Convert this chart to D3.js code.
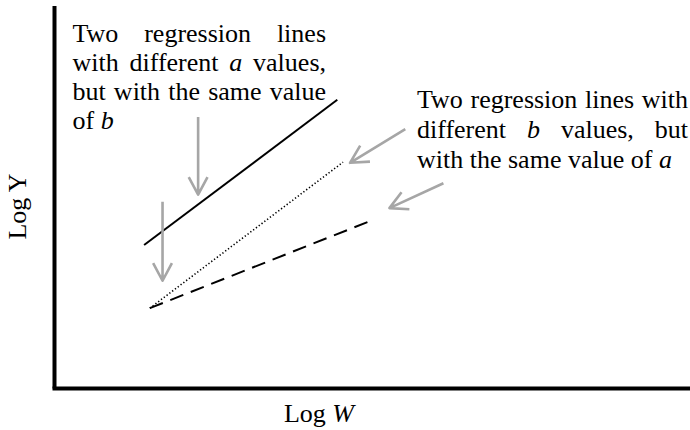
<!DOCTYPE html>
<html>
<head>
<meta charset="utf-8">
<script src="https://cdn.jsdelivr.net/npm/d3@7"></script>
</head>
<body style="margin:0;background:#fff">
<svg id="chart" width="690" height="430" style="display:block"></svg>
<script>
// Regression lines on log-log axes: [logW, logY] at each end
const lineNames   = ["solid", "dotted", "dashed"];
const lineStartW  = [1.41, 1.50, 1.50];
const lineStartY  = [2.25, 1.26, 1.26];
const lineEndW    = [4.45, 4.54, 5.00];
const lineEndY    = [4.53, 3.55, 2.64];

// Annotation arrows: tail -> tip, in the same axis units
const arrowTailW = [2.26, 1.70, 5.52, 6.12];
const arrowTailY = [4.26, 2.93, 4.07, 3.22];
const arrowTipW  = [2.26, 1.70, 4.65, 5.27];
const arrowTipY  = [3.04, 1.69, 3.54, 2.83];

// Notes (words wrapped in * are set in italics)
const leftNote  = ["Two regression lines",
                   "with different *a* values,",
                   "but with the same value",
                   "of *b*"];
const rightNote = ["Two regression lines with",
                   "different *b* values, but",
                   "with the same value of *a*"];

const xLabel = ["Log ", "*W*"];
const yLabel = "Log Y";

const fontFamily = "Liberation Serif";
const fontSize = 26;

const svg = d3.select("#chart");

const x = d3.scaleLinear().domain([0, 10]).range([54.5, 690]);
const y = d3.scaleLinear().domain([0, 6]).range([388.5, 6]);

// Axes: bare heavy lines along the scale ranges, no ticks
svg.append("line")
  .attr("x1", x(0)).attr("x2", x(0))
  .attr("y1", y.range()[0]).attr("y2", y.range()[1])
  .attr("stroke", "#000").attr("stroke-width", 4);
svg.append("line")
  .attr("x1", x.range()[0]).attr("x2", x.range()[1])
  .attr("y1", y(0)).attr("y2", y(0))
  .attr("stroke", "#000").attr("stroke-width", 4)
  .attr("stroke-linecap", "square");

// Regression lines
const dashFor = { solid: null, dotted: "1.3,2.2", dashed: "14,8" };
const widthFor = { solid: 2, dotted: 1.6, dashed: 2 };
const lineGen = d3.line().x(d => x(d[0])).y(d => y(d[1]));
lineNames.forEach((name, i) => {
  svg.append("path")
    .attr("d", lineGen([[lineStartW[i], lineStartY[i]], [lineEndW[i], lineEndY[i]]]))
    .attr("fill", "none")
    .attr("stroke", "#000")
    .attr("stroke-width", widthFor[name])
    .attr("stroke-dasharray", dashFor[name]);
});

// Grey annotation arrows with open heads
const arrowGrey = "#a6a6a6";
const headLen = 20, headAngle = 28 * Math.PI / 180;
arrowTailW.forEach((_, i) => {
  const tx = x(arrowTailW[i]), ty = y(arrowTailY[i]);
  const px = x(arrowTipW[i]),  py = y(arrowTipY[i]);
  const ang = Math.atan2(ty - py, tx - px);
  const a1 = [px + headLen * Math.cos(ang - headAngle), py + headLen * Math.sin(ang - headAngle)];
  const a2 = [px + headLen * Math.cos(ang + headAngle), py + headLen * Math.sin(ang + headAngle)];
  const p = d3.path();
  p.moveTo(tx, ty); p.lineTo(px, py);
  p.moveTo(a1[0], a1[1]); p.lineTo(px, py); p.lineTo(a2[0], a2[1]);
  svg.append("path")
    .attr("d", p.toString())
    .attr("fill", "none")
    .attr("stroke", arrowGrey)
    .attr("stroke-width", 2.6)
    .attr("stroke-linejoin", "round");
});

function styledText(sel) {
  return sel
    .attr("font-family", fontFamily)
    .attr("font-size", fontSize)
    .style("font-family", fontFamily, "important")
    .attr("fill", "#000");
}

// Justified text block: every line but the last is spread to the full width
function measure(str) {
  const t = styledText(svg.append("text")).text(str);
  const w = t.node().getComputedTextLength();
  t.remove();
  return w;
}
const spaceW = measure("a a") - measure("aa");

function drawBlock(lines, x0, width, base0, lh) {
  lines.forEach((line, i) => {
    const words = line.split(" ").map(w => {
      const it = /^\*.*\*$/.test(w);
      return { t: it ? w.slice(1, -1) : w, it };
    });
    const t = styledText(svg.append("text")).attr("y", base0 + i * lh);
    const spans = words.map(w => t.append("tspan")
      .attr("font-style", w.it ? "italic" : null).text(w.t));
    const widths = spans.map(s => s.node().getComputedTextLength());
    const justify = i < lines.length - 1 && words.length > 1;
    const gap = justify ? (width - d3.sum(widths)) / (words.length - 1) : spaceW;
    let cx = x0;
    spans.forEach((s, k) => { s.attr("x", cx); cx += widths[k] + gap; });
  });
}

drawBlock(leftNote, 72.5, 253.5, 41.8, 29.2);
drawBlock(rightNote, 417, 271, 108.3, 30);

// Axis titles
const xt = styledText(svg.append("text"))
  .attr("x", 319).attr("y", 422)
  .attr("text-anchor", "middle")
  .attr("xml:space", "preserve");
xLabel.forEach(s => {
  const it = /^\*.*\*$/.test(s);
  xt.append("tspan").attr("font-style", it ? "italic" : null)
    .text(it ? s.slice(1, -1) : s);
});

styledText(svg.append("text"))
  .attr("text-anchor", "middle")
  .attr("transform", "translate(26,206.5) rotate(-90)")
  .text(yLabel);
</script>
</body>
</html>
